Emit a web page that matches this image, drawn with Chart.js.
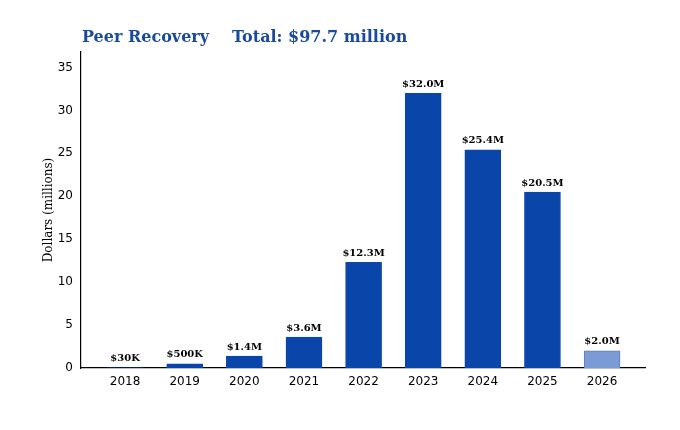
<!DOCTYPE html>
<html lang="en">
<head>
    <meta charset="UTF-8">
    <title>Peer Recovery</title>
    <script src="https://cdn.jsdelivr.net/npm/chart.js"></script>
    <style>
        html, body { margin: 0; padding: 0; background: #fff; }
        .chart-box { width: 680px; height: 430px; }
    </style>
</head>
<body>
    <div class="chart-box">
        <canvas id="grafico"></canvas>
    </div>

    <script>
        // datos
        const years = ["2018", "2019", "2020", "2021", "2022", "2023", "2024", "2025", "2026"];
        const amounts = [0.03, 0.5, 1.4, 3.6, 12.3, 32.0, 25.4, 20.5, 2.0];
        const barLabels = ["$30K", "$500K", "$1.4M", "$3.6M", "$12.3M", "$32.0M", "$25.4M", "$20.5M", "$2.0M"];
        const yTicks = [0, 5, 10, 15, 20, 25, 30, 35];
        const titleLeft = "Peer Recovery";
        const titleRight = "Total: $97.7 million";

        const azul = "#0a45aa";
        const azulClaro = "#7b9bd6";

        const serif = "'DejaVu Serif', 'Liberation Serif', serif";

        const etiquetas = {
            id: "etiquetas",
            afterDatasetsDraw(chart) {
                const ctx = chart.ctx;
                const meta = chart.getDatasetMeta(0);
                ctx.save();
                ctx.fillStyle = "#000";
                ctx.font = "bold 10px " + serif;
                ctx.textAlign = "center";
                ctx.textBaseline = "bottom";
                meta.data.forEach((bar, i) => {
                    ctx.fillText(barLabels[i], bar.x, bar.y - 4);
                });
                // titulo
                ctx.fillStyle = "#1a4a9c";
                ctx.font = "bold 16px " + serif;
                ctx.textAlign = "left";
                ctx.textBaseline = "alphabetic";
                ctx.fillText(titleLeft, 82, 42);
                ctx.fillText(titleRight, 232, 42);
                ctx.restore();
            }
        };

        Chart.defaults.font.family = "'DejaVu Sans', sans-serif";
        Chart.defaults.color = "#000";

        new Chart(document.getElementById("grafico"), {
            type: "bar",
            data: {
                datasets: [{
                    data: amounts.map((v, i) => ({ x: i, y: v })),
                    backgroundColor: years.map((y, i) => i === years.length - 1 ? azulClaro : azul),
                    borderColor: years.map((y, i) => i === years.length - 1 ? "#5c7db8" : azul),
                    borderWidth: 1,
                    barThickness: 36
                }]
            },
            options: {
                responsive: true,
                maintainAspectRatio: false,
                animation: false,
                layout: { padding: { left: 42, right: 35, top: 52, bottom: 0 } },
                plugins: {
                    legend: { display: false },
                    tooltip: { enabled: false }
                },
                scales: {
                    x: {
                        type: "linear",
                        offset: false,
                        min: -0.74,
                        max: 8.72,
                        grid: { display: false, drawTicks: true, tickLength: 4 },
                        border: { color: "#000", width: 1.2 },
                        afterBuildTicks: (scale) => {
                            scale.ticks = years.map((y, i) => ({ value: i }));
                        },
                        afterFit: (scale) => { scale.height = 62; },
                        ticks: {
                            autoSkip: false,
                            maxRotation: 0,
                            font: { size: 12 },
                            padding: 3,
                            callback: (value) => years[value]
                        }
                    },
                    y: {
                        min: 0,
                        max: 36.8,
                        grid: { display: false, drawTicks: true, tickLength: 4 },
                        border: { color: "#000", width: 1.2 },
                        afterBuildTicks: (scale) => {
                            scale.ticks = yTicks.map(v => ({ value: v }));
                        },
                        afterFit: (scale) => { scale.width = 39; },
                        ticks: {
                            font: { size: 12 },
                            padding: 4
                        },
                        title: {
                            display: true,
                            text: "Dollars (millions)",
                            font: { size: 12, family: serif },
                            padding: { top: 0, bottom: 0 }
                        }
                    }
                }
            },
            plugins: [etiquetas]
        });
    </script>
</body>
</html>
